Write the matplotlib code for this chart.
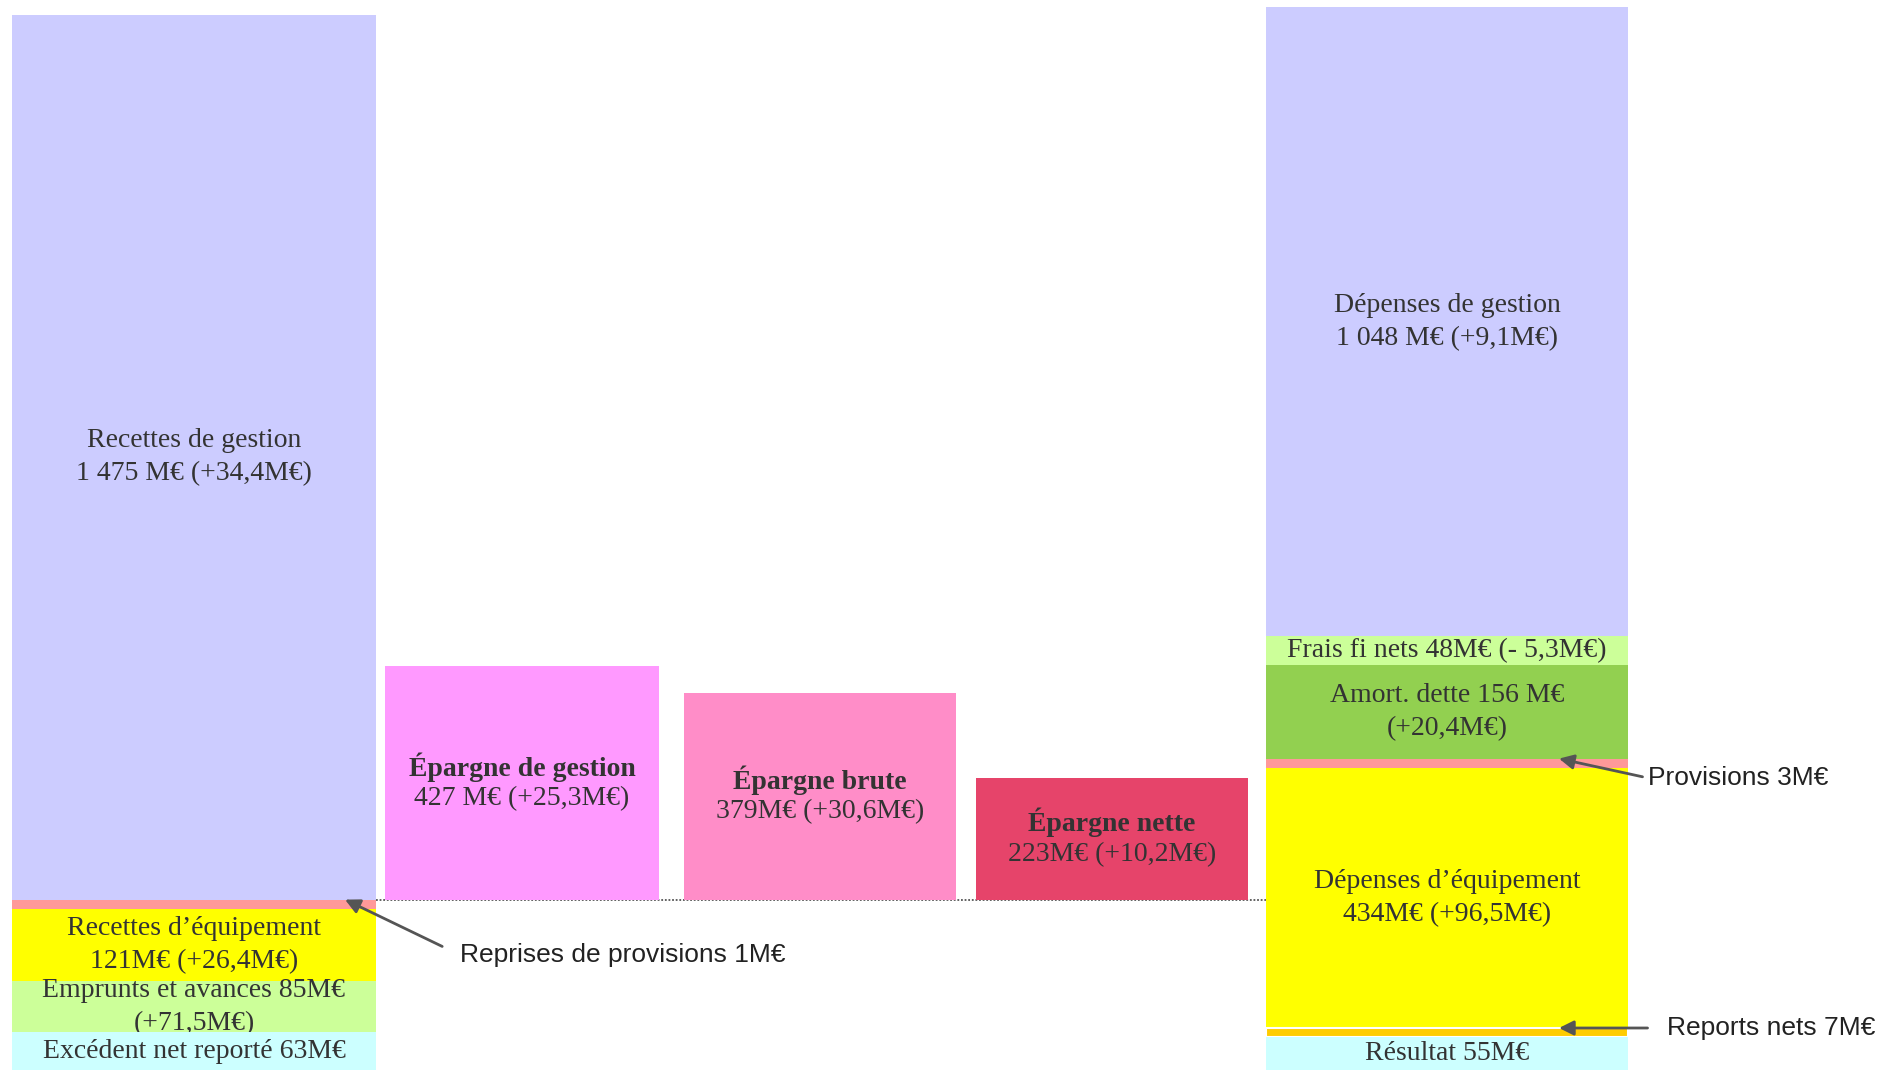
import matplotlib.pyplot as plt

# Données (M€) - colonnes empilées du bas vers le haut
recettes_val = [63, 85, 121, 1, 1475]
recettes_lab = [
    "Excédent net reporté 63M€",
    "Emprunts et avances 85M€\n(+71,5M€)",
    "Recettes d’équipement\n121M€ (+26,4M€)",
    "",
    "Recettes de gestion\n1 475 M€ (+34,4M€)",
]
recettes_col = ["#CCFFFF", "#CCFF99", "#FFFF00", "#FF9999", "#CCCCFF"]

depenses_val = [55, 7, 434, 3, 156, 48, 1048]
depenses_lab = [
    "Résultat 55M€",
    "",
    "Dépenses d’équipement\n434M€ (+96,5M€)",
    "",
    "Amort. dette 156 M€\n(+20,4M€)",
    "Frais fi nets 48M€ (- 5,3M€)",
    "Dépenses de gestion\n1 048 M€ (+9,1M€)",
]
depenses_col = ["#CCFFFF", "#FFCC00", "#FFFF00", "#FF9999", "#92D050", "#CCFF99", "#CCCCFF"]

epargne_val = [427, 379, 223]
epargne_nom = ["Épargne de gestion", "Épargne brute", "Épargne nette"]
epargne_txt = ["427 M€ (+25,3M€)", "379M€ (+30,6M€)", "223M€ (+10,2M€)"]
epargne_col = ["#FF99FF", "#FF8DC8", "#E6446A"]

# Mise en page
W, H = 1883, 1070
px = 0.6                # pixels par M€
ymax = H / px
min_h = 15              # hauteur minimale affichée des petits blocs
mid_scale = 0.91        # échelle des blocs d'épargne
col_left = (12, 364)
col_right = (1266, 362)
mid_x = [385, 684, 976]
mid_w = [274, 272, 272]
serif = "Liberation Serif"
txt_col = "#333333"
fs = 20
ls = 1.42

fig = plt.figure(figsize=(W / 100, H / 100), dpi=100)
ax = fig.add_axes([0, 0, 1, 1])
ax.set_xlim(0, W)
ax.set_ylim(0, ymax)
ax.axis("off")


def empiler(valeurs, labels, couleurs, col):
    x0, w = col
    bas = 0
    n = len(valeurs)
    bords = []
    for i, (v, lab, c) in enumerate(zip(valeurs, labels, couleurs)):
        h = max(v, min_h)
        z = 2 * (n - i)
        lw = 1.5 if c == "#FFCC00" else 0
        ax.bar(x0, h, width=w, bottom=bas, align="edge", color=c,
               edgecolor="white", linewidth=lw, zorder=z)
        if lab:
            ax.text(x0 + w / 2, bas + h / 2, lab, ha="center", va="center",
                    fontsize=fs, family=serif, color=txt_col, zorder=z + 1,
                    linespacing=ls)
        bords.append((bas, bas + h))
        bas += h
    return bords


bords_g = empiler(recettes_val, recettes_lab, recettes_col, col_left)
bords_d = empiler(depenses_val, depenses_lab, depenses_col, col_right)

# Ligne pointillée de base
base = bords_g[3][1]
ax.plot([col_left[0] + col_left[1], col_right[0]], [base, base],
        linestyle=(0, (1, 1)), color="#555555", linewidth=1.3, zorder=1)

# Blocs d'épargne sur leur propre échelle
ax_mid = fig.add_axes([0, 0, 1, 1])
ax_mid.set_xlim(0, W)
ax_mid.set_ylim(-base / mid_scale, (ymax - base) / mid_scale)
ax_mid.axis("off")
for x, w, v, nom, t, c in zip(mid_x, mid_w, epargne_val, epargne_nom, epargne_txt, epargne_col):
    ax_mid.bar(x, v, width=w, bottom=0, align="edge", color=c, linewidth=0)
    ax_mid.annotate(nom, xy=(x + w / 2, v / 2), xytext=(0, 11.5), textcoords="offset points",
                    ha="center", va="center", fontsize=fs, family=serif,
                    weight="bold", color=txt_col)
    ax_mid.annotate(t, xy=(x + w / 2, v / 2), xytext=(0, -11.5), textcoords="offset points",
                    ha="center", va="center", fontsize=fs, family=serif, color=txt_col)

# Annotations avec flèches
fleche = dict(arrowstyle="-|>", color="#555555", lw=2, mutation_scale=22,
              shrinkA=12, shrinkB=0, relpos=(0, 0.5))
sans = dict(ha="left", va="center", fontsize=19, family="Liberation Sans",
            color="#222222", zorder=20)
ax.annotate("Reprises de provisions 1M€", xy=(345, bords_g[3][1]),
            xytext=(460, (H - 955) / px), arrowprops=fleche, **sans)
ax.annotate("Provisions 3M€", xy=(1559, bords_d[3][1]),
            xytext=(1648, (H - 778) / px), arrowprops=dict(fleche, shrinkA=2), **sans)
ax.annotate("Reports nets 7M€", xy=(1559, bords_d[1][1]),
            xytext=(1667, bords_d[1][1]), arrowprops=fleche, **sans)

fig.savefig("out.png", dpi=100)
plt.close(fig)
